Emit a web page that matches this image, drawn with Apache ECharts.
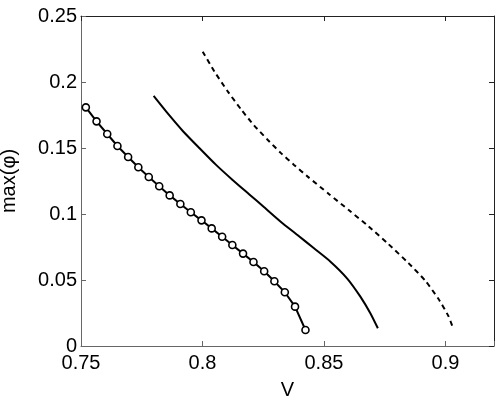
<!DOCTYPE html>
<html>
<head>
<meta charset="utf-8">
<script src="https://cdn.jsdelivr.net/npm/echarts@6/dist/echarts.min.js"></script>
<style>
  html, body { margin: 0; padding: 0; background: #fff; }
  #chart { width: 498px; height: 397px; }
</style>
</head>
<body>
<div id="chart"></div>
<script>
// curve with circle markers
var markV = [0.7520, 0.7564, 0.7608, 0.7650, 0.7694, 0.7736, 0.7779, 0.7822, 0.7865, 0.7909, 0.7952,
  0.7996, 0.8038, 0.8081, 0.8123, 0.8167, 0.8210, 0.8254, 0.8296, 0.8339, 0.8381, 0.8424];
var markPhi = [0.1808, 0.1702, 0.1606, 0.1515, 0.1432, 0.1354, 0.1280, 0.1210, 0.1141, 0.1076, 0.1013,
  0.0952, 0.0891, 0.0828, 0.0765, 0.0700, 0.0636, 0.0566, 0.0490, 0.0407, 0.0298, 0.0121];

// solid curve
var solidV = [0.7799, 0.7851, 0.7919, 0.7988, 0.8056, 0.8124, 0.8193, 0.8254, 0.8322, 0.8391,
  0.8459, 0.8527, 0.8595, 0.8650, 0.8691, 0.8722];
var solidPhi = [0.1894, 0.1775, 0.1629, 0.1498, 0.1372, 0.1258, 0.1148, 0.1051, 0.0942, 0.0841,
  0.0740, 0.0639, 0.0513, 0.0374, 0.0248, 0.0134];

// dashed curve
var dashV = [0.8001, 0.8049, 0.8104, 0.8159, 0.8213, 0.8268, 0.8322, 0.8377, 0.8432, 0.8520, 0.8602,
  0.8684, 0.8766, 0.8848, 0.8917, 0.8971, 0.9012, 0.9030];
var dashPhi = [0.2230, 0.2080, 0.1929, 0.1792, 0.1670, 0.1563, 0.1463, 0.1372, 0.1285, 0.1152, 0.1030,
  0.0906, 0.0771, 0.0628, 0.0495, 0.0358, 0.0228, 0.0143];

var xTicks = [0.75, 0.8, 0.85, 0.9];

function pairs(xs, ys) {
  return xs.map(function (x, i) { return [x, ys[i]]; });
}

var font = "'Liberation Sans', Arial, sans-serif";

var chart = echarts.init(document.getElementById("chart"));
chart.setOption({
  animation: false,
  grid: { left: 81, right: 4, top: 16, bottom: 51, show: false, containLabel: false, outerBoundsMode: "none" },
  xAxis: [
    {
      type: "value",
      min: 0.75,
      max: 0.92,
      interval: 0.05,
      name: "V",
      nameLocation: "middle",
      nameGap: 34,
      nameTextStyle: { fontFamily: font, fontSize: 20, color: "#000" },
      axisLine: { show: true, onZero: false, lineStyle: { color: "#666", width: 1 } },
      axisTick: { show: true, inside: true, length: 5, lineStyle: { color: "#666" } },
      axisLabel: {
        margin: 7,
        fontFamily: font,
        fontSize: 20,
        color: "#000",
        formatter: function (v) { return xTicks.indexOf(+v.toFixed(2)) >= 0 ? String(+v.toFixed(2)) : ""; }
      },
      splitLine: { show: false }
    },
    {
      type: "value",
      position: "top",
      min: 0.75,
      max: 0.92,
      interval: 0.05,
      axisLine: { show: true, onZero: false, lineStyle: { color: "#222", width: 1 } },
      axisTick: { show: true, inside: true, length: 5, lineStyle: { color: "#222" } },
      axisLabel: { show: false },
      splitLine: { show: false }
    }
  ],
  yAxis: [
    {
      type: "value",
      min: 0,
      max: 0.25,
      interval: 0.05,
      name: "max(\u03c6)",
      nameLocation: "middle",
      nameGap: 62,
      nameTextStyle: { fontFamily: font, fontSize: 20, color: "#000" },
      axisLine: { show: true, onZero: false, lineStyle: { color: "#666", width: 1 } },
      axisTick: { show: true, inside: true, length: 5, lineStyle: { color: "#666" } },
      axisLabel: {
        margin: 4,
        fontFamily: font,
        fontSize: 20,
        color: "#000",
        formatter: function (v) { return String(+v.toFixed(2)); }
      },
      splitLine: { show: false }
    },
    {
      type: "value",
      position: "right",
      min: 0,
      max: 0.25,
      interval: 0.05,
      axisLine: { show: true, onZero: false, lineStyle: { color: "#222", width: 1 } },
      axisTick: { show: true, inside: true, length: 5, lineStyle: { color: "#222" } },
      axisLabel: { show: false },
      splitLine: { show: false }
    }
  ],
  series: [
    {
      type: "line",
      data: pairs(markV, markPhi),
      symbol: "circle",
      symbolSize: 7,
      showAllSymbol: true,
      itemStyle: { color: "#fff", borderColor: "#000", borderWidth: 1.6 },
      lineStyle: { color: "#000", width: 2 }
    },
    {
      type: "line",
      data: pairs(solidV, solidPhi),
      smooth: 0.2,
      symbol: "none",
      lineStyle: { color: "#000", width: 2 }
    },
    {
      type: "line",
      data: pairs(dashV, dashPhi),
      smooth: 0.2,
      symbol: "none",
      lineStyle: { color: "#000", width: 2, type: [5, 4] }
    }
  ]
});
</script>
</body>
</html>
